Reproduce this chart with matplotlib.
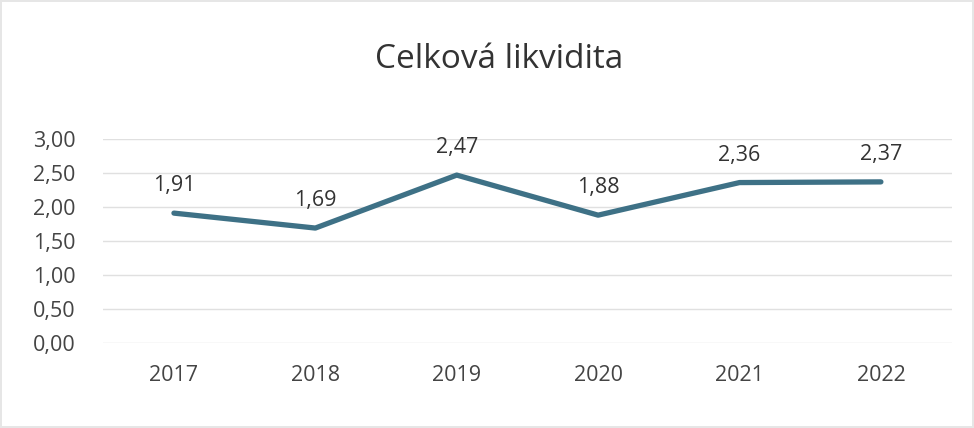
import matplotlib.pyplot as plt

# Data
years = ['2017', '2018', '2019', '2020', '2021', '2022']
liquidity = [1.91, 1.69, 2.47, 1.88, 2.36, 2.37]
y_ticks = [0.0, 0.5, 1.0, 1.5, 2.0, 2.5, 3.0]

plt.rcParams['font.family'] = ['Open Sans', 'DejaVu Sans']

fig = plt.figure(figsize=(9.74, 4.28), dpi=100)
ax = fig.add_axes([0.106, 0.199, 0.871, 0.476])

x = range(len(years))
ax.plot(x, liquidity, color='#3e7186', linewidth=3.8, solid_capstyle='round', solid_joinstyle='round', zorder=3)

# Data labels above the points
for i, v in enumerate(liquidity):
    ax.annotate(f'{v:.2f}'.replace('.', ','), (i, v), xytext=(0, 12), textcoords='offset points',
                ha='center', va='bottom', fontsize=15.5, color='#333333')

ax.set_xlim(-0.5, len(years) - 0.5)
ax.set_ylim(0, 3.0)
ax.set_xticks(list(x))
ax.set_xticklabels(years)
ax.set_yticks(y_ticks)
ax.set_yticklabels([f'{t:.2f}'.replace('.', ',') for t in y_ticks])
ax.tick_params(length=0, labelsize=15.5, labelcolor='#444444')
ax.tick_params(axis='x', pad=16)
ax.tick_params(axis='y', pad=20)
ax.grid(axis='y', color='#e0e0e0', linewidth=1)
ax.set_axisbelow(True)
for s in ax.spines.values():
    s.set_visible(False)

fig.suptitle('Celková likvidita', x=0.512, y=0.9, fontsize=24, color='#333333')

# light chart frame
fig.patch.set_edgecolor('#e6e6e6')
fig.patch.set_linewidth(1.5)

fig.savefig('out.png', dpi=100, edgecolor=fig.get_edgecolor())
